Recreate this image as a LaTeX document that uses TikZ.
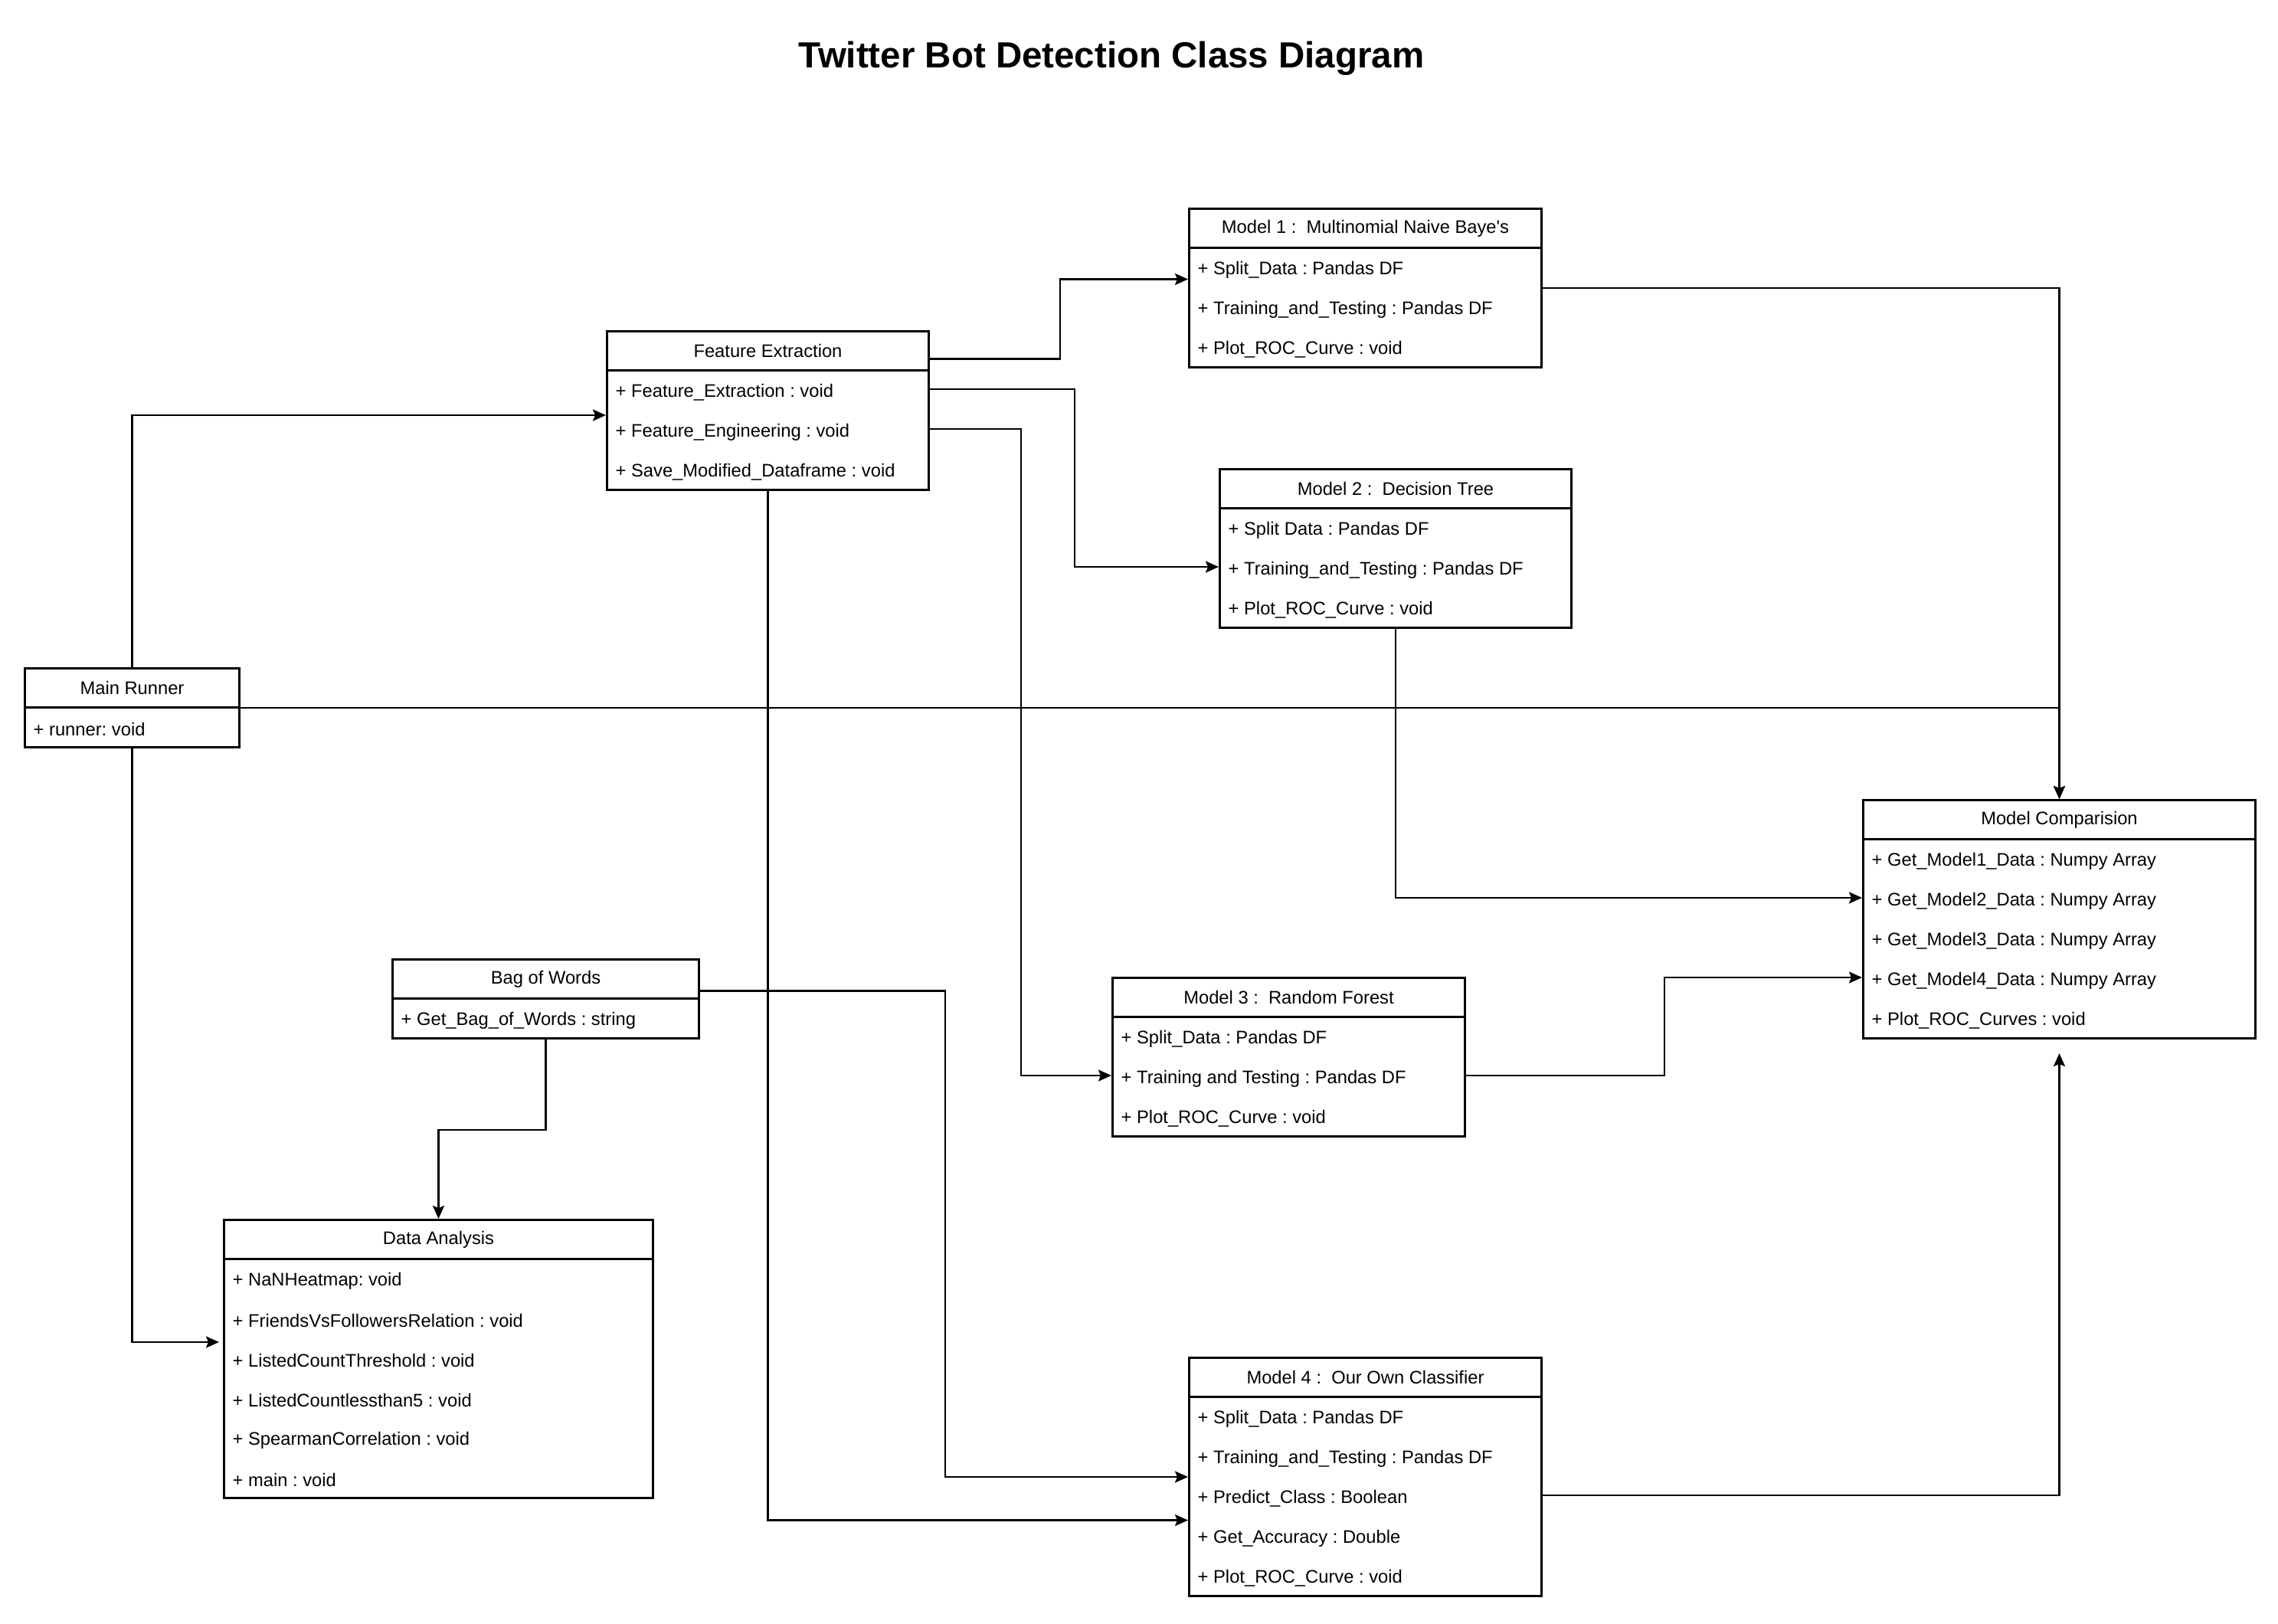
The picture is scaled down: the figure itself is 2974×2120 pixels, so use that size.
\documentclass[tikz,border=0pt]{standalone}
\usepackage{fontspec}
\setmainfont{Liberation Sans}
\usetikzlibrary{arrows.meta}
\frenchspacing

\begin{document}
\begin{tikzpicture}[x=0.01cm, y=-0.01cm,
  >={Stealth[length=0.17cm, width=0.15cm, inset=0.03cm]},
  classbox/.style={draw, line width=0.85pt, inner sep=0pt, anchor=north west},
  classhead/.style={classbox, minimum height=0.51cm, font=\fontsize{6.75}{8}\selectfont},
  member/.style={anchor=west, inner sep=0pt, font=\fontsize{6.75}{8}\selectfont},
  link/.style={->, line width=0.7pt}]
\def\umlclass#1#2#3#4#5#6#7{
  \node[classbox, minimum width=#4*0.01cm, minimum height=(51+#5*52)*0.01cm] (#1) at (#2,#3) {};
  \node[classhead, minimum width=#4*0.01cm] (#1-h) at (#2,#3) {#6};
  \foreach \m [count=\i] in {#7} {
    \coordinate (#1-\i) at ({#2},{#3+51+(\i-0.5)*52});
    \node[member] (#1-t\i) at ({#2+12},{#3+55+(\i-0.5)*52}) {\m};
  }
}
\fill[white] (0,0) rectangle (2974,2120);
\useasboundingbox (0,0) rectangle (2974,2120);
\node[anchor=base, font=\fontsize{13.5}{16}\selectfont\bfseries] (title) at (1451,88) {Twitter Bot Detection Class Diagram};

\umlclass{mr}{31}{871}{280}{1}{Main Runner}{+ runner: void}
\umlclass{fe}{791}{431}{420}{3}{Feature Extraction}{+ Feature\_Extraction : void, + Feature\_Engineering : void, + Save\_Modified\_Dataframe : void}
\umlclass{m1}{1551}{271}{460}{3}{Model 1 :\ \ Multinomial Naive Baye\textquotesingle s}{+ Split\_Data : Pandas DF, + Training\_and\_Testing : Pandas DF, + Plot\_ROC\_Curve : void}
\umlclass{m2}{1591}{611}{459}{3}{Model 2 :\ \ Decision Tree}{+ Split Data : Pandas DF, + Training\_and\_Testing : Pandas DF, + Plot\_ROC\_Curve : void}
\umlclass{m3}{1451}{1275}{460}{3}{Model 3 :\ \ Random Forest}{+ Split\_Data : Pandas DF, + Training and Testing : Pandas DF, + Plot\_ROC\_Curve : void}
\umlclass{m4}{1551}{1771}{460}{5}{Model 4 :\ \ Our Own Classifier}{+ Split\_Data : Pandas DF, + Training\_and\_Testing : Pandas DF, + Predict\_Class : Boolean, + Get\_Accuracy : Double, + Plot\_ROC\_Curve : void}
\umlclass{bw}{511}{1251}{400}{1}{Bag of Words}{+ Get\_Bag\_of\_Words : string}
\umlclass{da}{291}{1591}{560}{6}{Data Analysis}{+ NaNHeatmap: void, + FriendsVsFollowersRelation : void, + ListedCountThreshold : void, + ListedCountlessthan5 : void, + SpearmanCorrelation : void, + main : void}
\umlclass{mc}{2431}{1043}{512}{5}{Model Comparision}{+ Get\_Model1\_Data : Numpy Array, + Get\_Model2\_Data : Numpy Array, + Get\_Model3\_Data : Numpy Array, + Get\_Model4\_Data : Numpy Array, + Plot\_ROC\_Curves : void}

\draw[link] (mr.north) |- ([yshift=-0.06cm]fe.west);
\draw[link] (mr.south) |- ([xshift=-0.05cm, yshift=0.22cm]da.west);
\draw[link] (mr.east) -| (mc.north);
\draw[link] (m1.east) -| (mc.north);
\draw[link] ([yshift=-0.105cm]fe-h.east) -- ++(170,0) |- ([yshift=0.115cm]m1.west);
\draw[link] (fe.east |- fe-1) -- ++(189,0) |- (m2-2);
\draw[link] (fe.east |- fe-2) -- ++(119,0) |- (m3-2);
\draw[link] (fe.south) |- ([yshift=-0.565cm]m4.west);
\draw[link] ([yshift=0.105cm]bw.east) -- ++(320,0) |- (m4.west);
\draw[link] (bw.south) -- ++(0,118) -| (da.north);
\draw[link] (m2.south) |- (mc-2);
\draw[link] (m3.east |- m3-2) -- ++(259,0) |- (mc-4);
\draw[link] (m4.east |- m4-3) -| ([yshift=-0.18cm]mc.south);
\end{tikzpicture}
\end{document}
